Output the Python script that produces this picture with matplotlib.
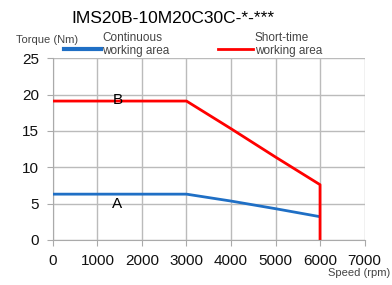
import matplotlib
matplotlib.use("Agg")
import matplotlib.pyplot as plt

plt.rcParams['font.family'] = ['Liberation Sans', 'DejaVu Sans']

# curve data (speed rpm, torque Nm)
cont_speed = [0, 3000, 4000, 5000, 6000]
cont_torque = [6.3, 6.3, 5.35, 4.3, 3.2]
short_speed = [0, 3000, 4000, 5000, 6000, 6000]
short_torque = [19.1, 19.1, 15.3, 11.4, 7.6, 0]

x_ticks = [0, 1000, 2000, 3000, 4000, 5000, 6000, 7000]
y_ticks = [0, 5, 10, 15, 20, 25]

title = "IMS20B-10M20C30C-*-***"

fig = plt.figure(figsize=(3.92, 2.85), dpi=100)
ax = fig.add_axes([0.135, 0.158, 0.795, 0.638])

ax.plot(cont_speed, cont_torque, color='#1f6fc5', lw=2, solid_capstyle='butt', zorder=3)
ax.plot(short_speed, short_torque, color='#ff0000', lw=2, solid_capstyle='butt', zorder=3)

ax.text(1450, 4.9, "A", fontsize=11, ha='center', va='center')
ax.text(1450, 19.2, "B", fontsize=11, ha='center', va='center')

ax.set_xlim(0, 7000)
ax.set_ylim(0, 25)
ax.set_xticks(x_ticks)
ax.set_yticks(y_ticks)
ax.grid(True, color='#bbbbbb', lw=1)
ax.set_axisbelow(True)
for s in ['top', 'right']:
    ax.spines[s].set_visible(False)
for s in ['left', 'bottom']:
    ax.spines[s].set_color('#aaaaaa')
ax.tick_params(colors='#aaaaaa', labelcolor='#111111', labelsize=11, length=4, pad=6)

fig.text(0.44, 0.935, title, fontsize=12.5, ha='center', va='center')
fig.text(0.04, 0.86, "Torque (Nm)", fontsize=8, color='#444444', ha='left', va='center')
fig.text(0.995, 0.025, "Speed (rpm)", fontsize=8, color='#444444', ha='right', va='bottom')

# legend drawn by hand along top
fig.add_artist(plt.Line2D([0.163, 0.257], [0.828, 0.828], color='#1f6fc5', lw=3))
fig.text(0.26, 0.845, "Continuous\nworking area", fontsize=8.5, color='#444444',
         ha='left', va='center', linespacing=1.1)
fig.add_artist(plt.Line2D([0.557, 0.645], [0.828, 0.828], color='#ff0000', lw=2))
fig.text(0.650, 0.845, "Short-time\nworking area", fontsize=8.5, color='#444444',
         ha='left', va='center', linespacing=1.1)

fig.savefig("out.png", dpi=100)
